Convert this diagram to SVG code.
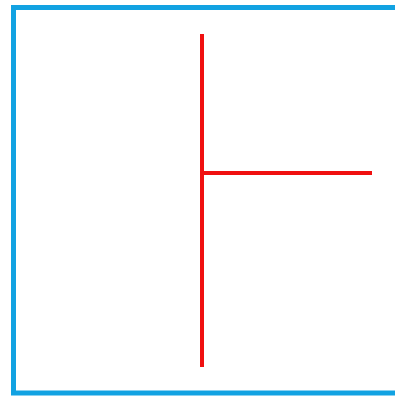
<svg xmlns="http://www.w3.org/2000/svg" width="395" height="396" viewBox="0 0 395 396">
<style>.l{stroke:#f01010;stroke-width:4;fill:none}</style>
<rect width="395" height="396" fill="#fff"/>
<g id="frame"><rect x="13.5" y="7.5" width="385" height="385.5" fill="none" stroke="#12a2e2" stroke-width="5"/></g>
<g id="connectors">
<line class="l" x1="202" y1="34" x2="202" y2="367"/>
<line class="l" x1="202" y1="173" x2="372" y2="173"/>
</g>
</svg>
